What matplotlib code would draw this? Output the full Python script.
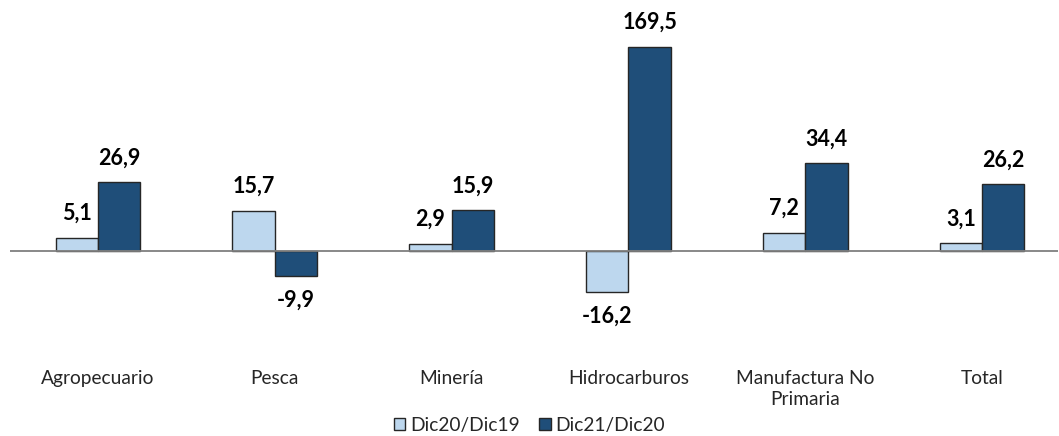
import matplotlib
matplotlib.use("Agg")
import matplotlib.pyplot as plt
import numpy as np
from matplotlib.patches import Patch
from matplotlib.transforms import blended_transform_factory

categories = ["Agropecuario", "Pesca", "Minería", "Hidrocarburos", "Manufactura No\nPrimaria", "Total"]
series_names = ["Dic20/Dic19", "Dic21/Dic20"]
dic20_dic19 = [5.1, 15.7, 2.9, -16.2, 7.2, 3.1]
dic21_dic20 = [26.9, -9.9, 15.9, 169.5, 34.4, 26.2]

colors = ["#BDD7EE", "#1F4E79"]
edge = "#262626"
font = ["Lato", "DejaVu Sans"]

W, H = 1059, 436
fig = plt.figure(figsize=(W / 100, H / 100), dpi=100)
top_px, bot_px = 47, 300
left_px, right_px = 9.6, 1058
ax = fig.add_axes([left_px / W, 1 - bot_px / H, (right_px - left_px) / W, (bot_px - top_px) / H])

ymax = 80.0
ymin = -(bot_px - 251) / ((251 - top_px) / ymax)
ax.set_ylim(ymin, ymax)
spacing_px = 176.8
ax.set_xlim(-0.5, -0.5 + (right_px - left_px) / spacing_px)

x = np.arange(len(categories))
bw = 0.24
for i, (vals, col) in enumerate(zip([dic20_dic19, dic21_dic20], colors)):
    vals = np.array(vals)
    shown = np.minimum(vals, ymax)
    xpos = x + (i - 0.5) * bw
    ax.bar(xpos, shown, width=bw, color=col, edgecolor=edge, linewidth=1.0, zorder=2, clip_on=False)
    for xp, v, s in zip(xpos, vals, shown):
        off = 17.5 if v >= 0 else -17.5
        ax.annotate(f"{v:.1f}".replace(".", ","), (xp, s), xytext=(0, off), textcoords="offset points",
                    ha="center", va="center", fontsize=15.5, fontweight="bold", color="#000000",
                    family=font, annotation_clip=False)

ax.axhline(0, color="#7f7f7f", linewidth=1.3, zorder=3)
for s in ax.spines.values():
    s.set_visible(False)
ax.set_xticks([])
ax.set_yticks([])

tr = blended_transform_factory(ax.transData, fig.transFigure)
for xi, c in zip(x, categories):
    ax.text(xi, 1 - 370 / H, c, transform=tr, ha="center", va="top", fontsize=13.8,
            color="#262626", family=font, linespacing=1.25)

handles = [Patch(facecolor=c, edgecolor=edge, linewidth=1.0) for c in colors]
fig.legend(handles, series_names, loc="center", bbox_to_anchor=(0.5, 1 - 425 / H), ncol=2,
           frameon=False, handlelength=0.6, handleheight=0.6, handletextpad=0.25, columnspacing=1.0,
           prop={"family": font, "size": 13.8}, labelcolor="#262626")

fig.savefig("out.png", dpi=100)
